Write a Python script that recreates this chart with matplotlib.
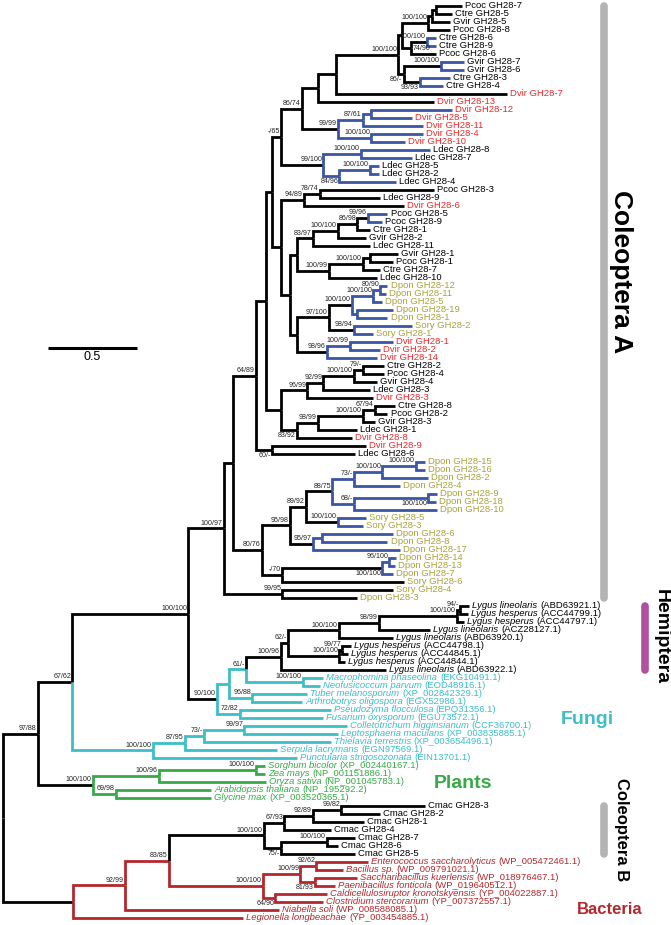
import matplotlib
matplotlib.use("Agg")
import matplotlib.pyplot as plt
import matplotlib.transforms as mtransforms
from matplotlib.collections import LineCollection

plt.rcParams["font.family"] = ["Liberation Sans", "DejaVu Sans"]

# leaf labels, top to bottom (index = row in the tree)
LEAF_NAMES = [
    "Pcoc GH28-7", "Ctre GH28-5", "Gvir GH28-5", "Pcoc GH28-8", "Ctre GH28-6", "Ctre GH28-9", "Pcoc GH28-6",
    "Gvir GH28-7", "Gvir GH28-6", "Ctre GH28-3", "Ctre GH28-4", "Dvir GH28-7", "Dvir GH28-13", "Dvir GH28-12",
    "Dvir GH28-5", "Dvir GH28-11", "Dvir GH28-4", "Dvir GH28-10", "Ldec GH28-8", "Ldec GH28-7", "Ldec GH28-5",
    "Ldec GH28-2", "Ldec GH28-4", "Pcoc GH28-3", "Ldec GH28-9", "Dvir GH28-6", "Pcoc GH28-5", "Pcoc GH28-9",
    "Ctre GH28-1", "Gvir GH28-2", "Ldec GH28-11", "Gvir GH28-1", "Pcoc GH28-1", "Ctre GH28-7", "Ldec GH28-10",
    "Dpon GH28-12", "Dpon GH28-11", "Dpon GH28-5", "Dpon GH28-19", "Dpon GH28-1", "Sory GH28-2", "Sory GH28-1",
    "Dvir GH28-1", "Dvir GH28-2", "Dvir GH28-14", "Ctre GH28-2", "Pcoc GH28-4", "Gvir GH28-4", "Ldec GH28-3",
    "Dvir GH28-3", "Ctre GH28-8", "Pcoc GH28-2", "Gvir GH28-3", "Ldec GH28-1", "Dvir GH28-8", "Dvir GH28-9",
    "Ldec GH28-6", "Dpon GH28-15", "Dpon GH28-16", "Dpon GH28-2", "Dpon GH28-4", "Dpon GH28-9", "Dpon GH28-18",
    "Dpon GH28-10", "Sory GH28-5", "Sory GH28-3", "Dpon GH28-6", "Dpon GH28-8", "Dpon GH28-17", "Dpon GH28-14",
    "Dpon GH28-13", "Dpon GH28-7", "Sory GH28-6", "Sory GH28-4", "Dpon GH28-3",
    "Lygus lineolaris (ABD63921.1)", "Lygus hesperus (ACC44799.1)", "Lygus hesperus (ACC44797.1)",
    "Lygus lineolaris (ACZ28127.1)", "Lygus lineolaris (ABD63920.1)", "Lygus hesperus (ACC44798.1)",
    "Lygus hesperus (ACC44845.1)", "Lygus hesperus (ACC44844.1)", "Lygus lineolaris (ABD63922.1)",
    "Macrophomina phaseolina (EKG10491.1)", "Neofusicoccum parvum (EOD48916.1)",
    "Tuber melanosporum (XP_002842329.1)", "Arthrobotrys oligospora (EGX52986.1)",
    "Pseudozyma flocculosa (EPQ31356.1)", "Fusarium oxysporum (EGU73572.1)",
    "Colletotrichum higginsianum (CCF36700.1)", "Leptosphaeria maculans (XP_003835885.1)",
    "Thielavia terrestris (XP_003654496.1)", "Serpula lacrymans (EGN97569.1)",
    "Punctularia strigosozonata (EIN13701.1)",
    "Sorghum bicolor (XP_002440167.1)", "Zea mays (NP_001151886.1)", "Oryza sativa (NP_001045783.1)",
    "Arabidopsis thaliana (NP_195292.2)", "Glycine max (XP_003520365.1)",
    "Cmac GH28-3", "Cmac GH28-2", "Cmac GH28-1", "Cmac GH28-4", "Cmac GH28-7", "Cmac GH28-6", "Cmac GH28-5",
    "Enterococcus saccharolyticus (WP_005472461.1)", "Bacillus sp. (WP_009791021.1)",
    "Saccharibacillus kuerlensis (WP_018976467.1)", "Paenibacillus fonticola (WP_019640512.1)",
    "Caldicellulosiruptor kronotskyensis (YP_004022887.1)", "Clostridium stercorarium (YP_007372557.1)",
    "Niabella soli (WP_008588085.1)", "Legionella longbeachae (YP_003454885.1)",
]

# newick pieces: leaf = index in LEAF_NAMES, text before ':' = bootstrap,
# number after ':' = distance from the root (substitutions/site)
COL_A1 = "(((0:2.58,1:2.52):2.43,2:2.51):2.41,3:2.51)100/100:2.39"
COL_A2 = "((4:2.43,5:2.43)100/100:2.38,6:2.43)74/90:2.29"
COL_A3 = "((7:2.59,8:2.59)100/100:2.46,(9:2.51,10:2.47)93/93:2.34)86/-:2.25"
COL_A4 = "(((13:2.52,14:2.30):2.07,15:2.36)87/61:2.02,(16:2.36,17:2.26)100/100:2.07)99/99:1.88"
COL_A5 = "((18:2.40,19:2.30)100/100:2.01,((20:2.11,21:2.11)100/100:2.06,22:2.21)84/96:1.89)99/100:1.80"
COL_A6 = "((23:2.42,24:2.12)78/74:1.78,25:2.25)94/89:1.69"
COL_A7 = "((((26:2.16,27:2.13)99/96:2.05,28:2.06)86/98:1.99,29:2.04)100/100:1.88,30:2.06)83/97:1.74"
COL_A8 = "(((31:2.22,32:2.19):2.06,33:2.12)100/100:2.02,34:2.10)100/99:1.83"
COL_A9 = ("((((35:2.16,36:2.15)80/90:2.12,37:2.13)100/100:2.08,(38:2.19,39:2.16):1.99)100/100:1.96,"
          "(40:2.30,41:2.08)98/94:1.97)97/100:1.83")
COL_A10 = "((42:2.19,43:2.12)100/99:1.95,44:2.10)98/96:1.82"
COL_A11 = "((((45:2.14,46:2.14)79/-:2.02,47:2.10)100/100:1.97,48:2.06)92/99:1.80,49:2.08)96/99:1.71"
COL_A12 = "((((50:2.20,51:2.16)67/94:2.09,52:2.09)100/100:2.02,53:1.99)98/99:1.77,54:1.96)83/92:1.65"
COL_A13 = "(55:2.04,56:1.98)60/-:1.51"
COL_A14 = ("(((((57:2.37,58:2.37)100/100:2.32,59:2.39)100/100:2.13,60:2.23)73/-:1.97,"
           "((61:2.44,62:2.43)100/100:2.39,63:2.44)68/-:1.97)88/75:1.85,(64:2.04,65:2.02)100/100:1.88)89/92:1.70")
COL_A15 = "((66:2.19,67:2.16):1.79,68:2.23)95/97:1.74"
COL_A16 = "(((69:2.21,70:2.20)96/100:2.17,71:2.19)100/100:2.13,72:2.25)-/70:1.57"
COL_A17 = "(73:2.19,74:1.99)99/95:1.57"
HEMI = ("((((((75:2.62,76:2.61)94/-:2.57,77:2.59)100/100:2.55,78:2.40)98/99:2.11,79:2.19)100/100:1.885,"
        "((80:1.955,81:1.94)99/77:1.905,82:1.92)100/100:1.89)62/-:1.60,83:2.15)100/96:1.56")
FUNGI_B = "((((90:1.93,91:1.88)99/97:1.355,92:1.84)73/-:1.13,93:1.54)87/95:1.02,94:1.65)100/100:0.84"
PLANTS = "(((95:1.47,96:1.47)100/100:1.42,97:1.475)100/96:0.875,(98:1.17,99:1.17)69/98:0.635)100/100:0.505"
COL_B = ("((((100:2.37,101:2.12)99/82:1.90,102:2.03)92/89:1.74,103:1.84)67/93:1.58,"
         "((104:1.98,105:1.88)100/100:1.82,106:1.98)75/-:1.56)100/100:1.465")
BACT = ("(((107:2.05,108:1.91)92/62:1.76,(109:1.99,110:1.865)81/93:1.75)100/99:1.67,"
        "(111:1.82,112:1.80)64/90:1.53)100/100:1.46")

TOP = f"((({COL_A1},{COL_A2}):2.24,{COL_A3})100/100:2.22,11:2.83):1.87"
N302 = f"(({TOP},12:2.42):1.77,{COL_A4})86/74:1.68"
N272 = f"(({N302},{COL_A5})-/65:1.56,({COL_A6},(({COL_A7},{COL_A8}):1.65,({COL_A9},{COL_A10}):1.65):1.61):1.56):1.51"
N255 = f"(({N272},({COL_A11},{COL_A12}):1.56):1.48,{COL_A13})64/89:1.42"
N262 = f"(({COL_A14},{COL_A15})95/98:1.61,{COL_A16})80/76:1.455"
COL_A = f"(({N255},{N262}):1.29,{COL_A17})100/97:1.24"
FUNGI_A = (f"((({HEMI},(84:1.80,85:1.78)100/100:1.685)61/-:1.365,(86:1.71,87:1.68)96/88:1.40):1.27,"
           "(88:1.84,89:1.80)72/82:1.33)90/100:1.20")
TREE = (f"(((({COL_A},{FUNGI_A})100/100:1.04,{FUNGI_B})67/62:0.39,{PLANTS})97/88:0.195,"
        f"((({COL_B},{BACT})83/85:0.93,113:1.55)92/99:0.685,114:1.35):0.395):0;")

BLACK = "#000000"
BLUE = "#3a55a5"
CYAN = "#3dbdc6"
GREEN = "#37a947"
BACT_RED = "#b3282d"
DVIR_RED = "#ea2a2c"
OLIVE = "#a9a23b"
GRAY = "#b4b4b4"
PURPLE = "#b2509d"

# (mode, first leaf, last leaf, colour): 'stem' colours the clade incl. its stem branch
CLADE_COLOURS = [
    ("crown", 75, 89, CYAN), ("stem", 75, 83, BLACK), ("stem", 90, 94, CYAN),
    ("crown", 95, 99, GREEN), ("crown", 100, 114, BACT_RED), ("stem", 100, 106, BLACK),
]
BLUE_CLADES = [(4, 5), (7, 8), (9, 10), (13, 17), (18, 22), (26, 27), (35, 39), (40, 41),
               (42, 44), (57, 63), (64, 65), (66, 68), (69, 71)]
LABEL_BELOW = [(7, 10), (9, 10), (20, 22), (50, 54), (55, 56), (61, 62), (69, 71),
               (104, 106), (109, 110), (111, 112)]
LABEL_RIGHT = [(4, 6)]
PREFIX_COLOUR = {"Dvir": DVIR_RED, "Dpon": OLIVE, "Sory": OLIVE}


def parse_newick(s):
    pos = 0

    def read():
        nonlocal pos
        kids = []
        if s[pos] == "(":
            pos += 1
            kids.append(read())
            while s[pos] == ",":
                pos += 1
                kids.append(read())
            pos += 1
        start = pos
        while s[pos] not in ":,);":
            pos += 1
        label = s[start:pos]
        depth = 0.0
        if s[pos] == ":":
            pos += 1
            start = pos
            while s[pos] not in ",);":
                pos += 1
            depth = float(s[start:pos])
        return {"kids": kids, "label": label, "x": depth}

    return read()


root = parse_newick(TREE)
nodes = []


def walk(n, parent):
    n["parent"] = parent
    nodes.append(n)
    if not n["kids"]:
        i = int(n["label"])
        n["y"] = i
        n["lo"] = n["hi"] = i
    else:
        for k in n["kids"]:
            walk(k, n)
        n["y"] = (n["kids"][0]["y"] + n["kids"][-1]["y"]) / 2
        n["lo"] = n["kids"][0]["lo"]
        n["hi"] = n["kids"][-1]["hi"]


walk(root, None)
leaves = [n for n in nodes if not n["kids"]]
assert [n["y"] for n in leaves] == list(range(len(LEAF_NAMES)))


def mrca(a, b):
    best = root
    for n in nodes:
        if n["lo"] <= a and n["hi"] >= b and n["hi"] - n["lo"] < best["hi"] - best["lo"]:
            best = n
    return best


def subtree(n):
    yield n
    for k in n["kids"]:
        yield from subtree(k)


for n in nodes:
    n["col"] = BLACK
rules = CLADE_COLOURS + [("crown", a, b, BLUE) for a, b in BLUE_CLADES]
for mode, a, b, col in rules:
    m = mrca(a, b)
    for d in subtree(m):
        if d is m and mode == "crown":
            continue
        d["col"] = col

W, H = 671, 925
UNIT_PX = 178.0   # 0.5 scale bar = 89 px
fig = plt.figure(figsize=(W / 100, H / 100), dpi=100)
ax = fig.add_axes([0, 0, 1, 1])
ax.set_xlim(-3 / UNIT_PX, (W - 3) / UNIT_PX)
ax.set_ylim((H - 6) / 8.0, -6 / 8.0)
ax.axis("off")

segs, cols = [], []
for n in nodes:
    p = n["parent"]
    if p is None:
        continue
    segs.append([(p["x"], p["y"]), (p["x"], n["y"]), (n["x"], n["y"])])
    cols.append(n["col"])
ax.add_collection(LineCollection(segs, colors=cols, linewidths=2.0,
                                 capstyle="butt", joinstyle="miter"))

# leaf labels
LEAF_FS = 6.8
for n in leaves:
    name = LEAF_NAMES[n["y"]]
    if "GH28" in name:
        colour = PREFIX_COLOUR.get(name[:4], BLACK)
    else:
        colour = n["col"]
    if " (" in name:
        species, acc = name.split(" (", 1)
        t = ax.annotate(species, (n["x"], n["y"]), xytext=(2.2, 0), textcoords="offset points",
                        ha="left", va="center", fontsize=LEAF_FS, style="italic", color=colour)
        ax.annotate("(" + acc, xy=(1, 0), xycoords=t, xytext=(2.0, 0), textcoords="offset points",
                    ha="left", va="bottom", fontsize=LEAF_FS, color=colour)
    else:
        ax.annotate(name, (n["x"], n["y"]), xytext=(2.2, 0), textcoords="offset points",
                    ha="left", va="center", fontsize=LEAF_FS, color=colour)

# bootstrap values
below = {id(mrca(a, b)) for a, b in LABEL_BELOW}
right = {id(mrca(a, b)) for a, b in LABEL_RIGHT}
for n in nodes:
    if not n["kids"] or not n["label"]:
        continue
    if id(n) in right:
        off, ha, va = (1.5, -0.5), "left", "center"
    elif id(n) in below:
        off, ha, va = (-0.8, -1.3), "right", "top"
    else:
        off, ha, va = (-0.8, 1.3), "right", "bottom"
    ax.annotate(n["label"], (n["x"], n["y"]), xytext=off, textcoords="offset points",
                ha=ha, va=va, fontsize=5.1, color="#222222")

# scale bar
ax.plot([0.25, 0.75], [42.75, 42.75], color="black", lw=2.2, solid_capstyle="butt")
ax.annotate("0.5", (0.5, 42.75), xytext=(0, -2.5), textcoords="offset points",
            ha="center", va="top", fontsize=9)

# group bars
blend = mtransforms.blended_transform_factory(ax.transAxes, ax.transData)
GROUP_BARS = [(604, 0, 74, GRAY), (645, 75, 83, PURPLE), (604, 100, 106, GRAY)]
for px, a, b, col in GROUP_BARS:
    ax.plot([px / W, px / W], [a, b], transform=blend, color=col, lw=5.5,
            solid_capstyle="round")


def ftext(px, py, s, **kw):
    fig.text(px / W, 1 - py / H, s, ha="center", va="center", fontweight="bold", **kw)


ftext(621, 272, "Coleoptera A", rotation=-90, fontsize=19, color="black")
ftext(661, 637, "Hemiptera", rotation=-90, fontsize=14, color="black")
ftext(587, 720, "Fungi", fontsize=14, color=CYAN)
ftext(463, 784, "Plants", fontsize=14, color=GREEN)
ftext(622, 830, "Coleoptera B", rotation=-90, fontsize=12, color="black")
ftext(610, 910, "Bacteria", fontsize=12, color=BACT_RED)

fig.savefig("out.png", dpi=100)
